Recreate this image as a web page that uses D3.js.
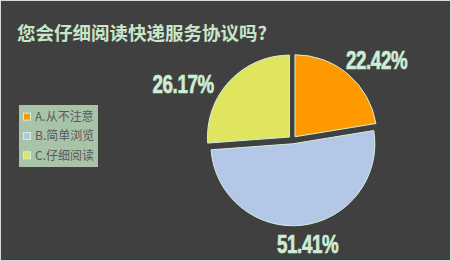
<!DOCTYPE html>
<html>
<head>
<meta charset="utf-8">
<script src="https://cdn.jsdelivr.net/npm/d3@7"></script>
<style>
  html, body { margin: 0; padding: 0; background: #404040; }
  svg { display: block; }
</style>
</head>
<body>
<svg id="chart" width="451" height="261"></svg>
<script>
const title = '您会仔细阅读快递服务协议吗?'
const categories = ['A.从不注意', 'B.简单浏览', 'C.仔细阅读']
const shares = [22.42, 51.41, 26.17]
const colors = ['#ff9900', '#b4c7e7', '#dfe55f']

const width = 451, height = 261
const center = [292.4, 139.8]
const radius = 82
const explode = 4
// small hand nudges for label boxes (Excel moves some of them)
const labelNudge = { 'C.仔细阅读': [-14, 15] }

const svg = d3.select('#chart')

svg.append('rect')
  .attr('x', 0.5).attr('y', 0.5)
  .attr('width', width - 1).attr('height', height - 1)
  .attr('fill', '#404040')
  .attr('stroke', '#d9d9d9')

svg.append('text')
  .attr('x', 17).attr('y', 40)
  .attr('fill', '#c8e6c9')
  .style('font-family', '"Noto Sans CJK SC", sans-serif')
  .style('font-weight', 'bold')
  .style('font-size', '18.5px')
  .text(title)

const data = categories.map((name, i) => ({ name, value: shares[i], color: colors[i] }))

const pie = d3.pie().sort(null).value(d => d.value).startAngle(0).endAngle(2 * Math.PI)
const arc = d3.arc().innerRadius(0).outerRadius(radius)
const arcs = pie(data)

const g = svg.append('g').attr('transform', `translate(${center})`)

const dir = a => [Math.sin(a), -Math.cos(a)]

g.selectAll('.slice')
  .data(arcs)
  .enter().append('path').attr('class', 'slice')
    .attr('d', arc)
    .attr('transform', d => {
      const [ux, uy] = dir((d.startAngle + d.endAngle) / 2)
      return `translate(${ux * explode}, ${uy * explode})`
    })
    .attr('fill', d => d.data.color)
    .attr('stroke', '#d6efd9')
    .attr('stroke-width', 1)

// value labels, outside end; condensed by squeezing a bold sans
const labelW = 68, labelH = 18, labelGap = 10
g.selectAll('.value')
  .data(arcs)
  .enter().append('text').attr('class', 'value')
    .attr('transform', d => {
      const [ux, uy] = dir((d.startAngle + d.endAngle) / 2)
      const r = explode + radius + labelGap
      const nudge = labelNudge[d.data.name] || [0, 0]
      const x = ux * r + ux * labelW / 2 + nudge[0]
      const y = uy * r + uy * labelH / 2 + nudge[1]
      return `translate(${x}, ${y}) scale(0.72, 1)`
    })
    .attr('text-anchor', 'middle')
    .attr('dy', '0.36em')
    .attr('fill', '#cdeed5')
    .attr('stroke', '#cdeed5')
    .attr('stroke-width', 0.7)
    .style('font-family', '"Liberation Sans", Arial, sans-serif')
    .style('font-weight', 'bold')
    .style('font-size', '26px')
    .style('letter-spacing', '-0.5px')
    .text(d => d.data.value.toFixed(2) + '%')

// legend
const legend = svg.append('g').attr('transform', 'translate(19, 105)')
legend.append('rect')
  .attr('width', 79).attr('height', 62)
  .attr('fill', '#a9c3a9')

const row = d3.scaleBand().domain(categories).range([2, 60])

const items = legend.selectAll('.item')
  .data(data)
  .enter().append('g').attr('class', 'item')
    .attr('transform', d => `translate(0, ${row(d.name) + row.bandwidth() / 2})`)

items.append('rect')
  .attr('x', 4.5).attr('y', -3.5)
  .attr('width', 7).attr('height', 7)
  .attr('fill', d => d.color)
  .attr('stroke', '#d6efd9')

items.append('text')
  .attr('x', 16).attr('dy', '0.36em')
  .attr('fill', '#595959')
  .style('font-family', '"Noto Sans CJK SC", sans-serif')
  .style('font-size', '12px')
  .text(d => d.name)
</script>
</body>
</html>
